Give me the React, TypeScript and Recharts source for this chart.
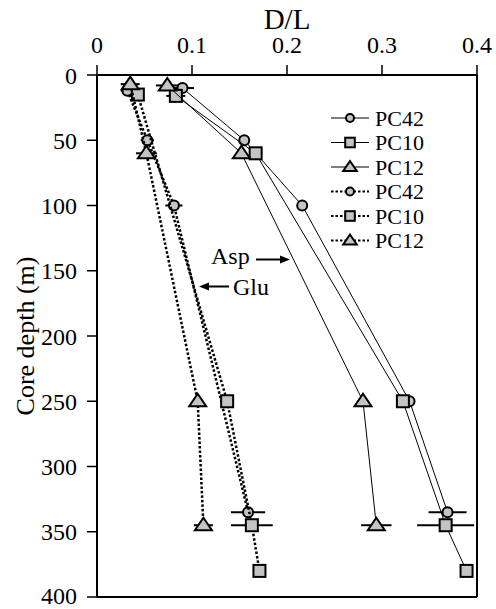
import React from 'react'
import {
  ScatterChart,
  Scatter,
  XAxis,
  YAxis,
  ErrorBar,
  ReferenceLine,
  Legend
} from 'recharts'

// axis ticks
const xTicks = [0, 0.1, 0.2, 0.3, 0.4]
const yTicks = [0, 50, 100, 150, 200, 250, 300, 350, 400]

// Asp D/L (solid lines) - dl, depth (m), err = half width of x error bar
const aspPC42 = [
  { dl: 0.090, depth: 10, err: 0.012 },
  { dl: 0.155, depth: 50, err: 0 },
  { dl: 0.216, depth: 100, err: 0 },
  { dl: 0.329, depth: 250, err: 0 },
  { dl: 0.369, depth: 335, err: 0.02 }
]
const aspPC10 = [
  { dl: 0.083, depth: 16, err: 0.01 },
  { dl: 0.167, depth: 60, err: 0.007 },
  { dl: 0.322, depth: 250, err: 0 },
  { dl: 0.367, depth: 345, err: 0.03 },
  { dl: 0.389, depth: 380, err: 0 }
]
const aspPC12 = [
  { dl: 0.074, depth: 8, err: 0.012 },
  { dl: 0.152, depth: 60, err: 0 },
  { dl: 0.280, depth: 250, err: 0 },
  { dl: 0.294, depth: 345, err: 0.016 }
]

// Glu D/L (dotted lines)
const gluPC42 = [
  { dl: 0.032, depth: 12, err: 0.007 },
  { dl: 0.053, depth: 50, err: 0.007 },
  { dl: 0.081, depth: 100, err: 0.009 },
  { dl: 0.159, depth: 335, err: 0.018 }
]
const gluPC10 = [
  { dl: 0.043, depth: 15, err: 0 },
  { dl: 0.137, depth: 250, err: 0 },
  { dl: 0.163, depth: 345, err: 0.022 },
  { dl: 0.171, depth: 380, err: 0 }
]
const gluPC12 = [
  { dl: 0.035, depth: 7, err: 0.01 },
  { dl: 0.052, depth: 60, err: 0.011 },
  { dl: 0.106, depth: 250, err: 0 },
  { dl: 0.112, depth: 345, err: 0.01 }
]

type Kind = 'circle' | 'square' | 'triangle'

const series: { name: string; data: typeof aspPC42; kind: Kind; dotted: boolean }[] = [
  { name: 'PC42', data: aspPC42, kind: 'circle', dotted: false },
  { name: 'PC10', data: aspPC10, kind: 'square', dotted: false },
  { name: 'PC12', data: aspPC12, kind: 'triangle', dotted: false },
  { name: 'PC42', data: gluPC42, kind: 'circle', dotted: true },
  { name: 'PC10', data: gluPC10, kind: 'square', dotted: true },
  { name: 'PC12', data: gluPC12, kind: 'triangle', dotted: true }
]

const FONT = '"Liberation Serif", "Times New Roman", serif'
const GRAY = '#c4c4c4'
const solidLine = { stroke: '#000', strokeWidth: 1 }
const dottedLine = { stroke: '#000', strokeWidth: 2.5, strokeDasharray: '2.5 2' }

function Marker({ kind, cx, cy, s = 1 }: { kind: Kind; cx: number; cy: number; s?: number }) {
  if (kind === 'circle') {
    return <circle cx={cx} cy={cy} r={5 * s} fill={GRAY} stroke="#000" strokeWidth={2} />
  }
  if (kind === 'square') {
    return (
      <rect x={cx - 6 * s} y={cy - 6 * s} width={12 * s} height={12 * s}
        fill={GRAY} stroke="#000" strokeWidth={2} />
    )
  }
  return (
    <polygon
      points={`${cx},${cy - 7.5 * s} ${cx + 8.5 * s},${cy + 5 * s} ${cx - 8.5 * s},${cy + 5 * s}`}
      fill={GRAY} stroke="#000" strokeWidth={2} strokeLinejoin="miter" />
  )
}

const renderLegend = () => (
  <svg width={160} height={150}>
    {series.map((s, i) => {
      const y = 12 + i * 24.5
      return (
        <g key={i}>
          <line x1={2} x2={40} y1={y} y2={y} {...(s.dotted ? { ...dottedLine, strokeWidth: 2 } : solidLine)} />
          <Marker kind={s.kind} cx={21} cy={y} s={0.8} />
          <text x={46} y={y + 7.5} fontSize={22} fontFamily={FONT} fill="#000">{s.name}</text>
        </g>
      )
    })}
  </svg>
)

export default function App() {
  return (
    <div style={{ position: 'absolute', left: 0, top: 0, width: 496, height: 609, background: '#fff' }}>
      <ScatterChart width={496} height={609} margin={{ top: 65, right: 19, bottom: 12, left: 87 }}>
        <XAxis
          type="number"
          dataKey="dl"
          orientation="top"
          height={10}
          domain={[0, 0.4]}
          ticks={xTicks}
          allowDataOverflow
          tickSize={10}
          tickMargin={12}
          axisLine={{ stroke: '#000', strokeWidth: 2 }}
          tickLine={{ stroke: '#000', strokeWidth: 1.5 }}
          tick={{ fill: '#000', fontSize: 24, fontFamily: FONT }}
          label={(p: any) => (
            <text x={p.viewBox.x + p.viewBox.width / 2} y={29} textAnchor="middle"
              fontSize={29} fontFamily={FONT} fill="#000">D/L</text>
          )}
        />
        <YAxis
          type="number"
          dataKey="depth"
          width={10}
          reversed
          domain={[0, 400]}
          ticks={yTicks}
          allowDataOverflow
          tickSize={10}
          tickMargin={10}
          axisLine={{ stroke: '#000', strokeWidth: 2 }}
          tickLine={{ stroke: '#000', strokeWidth: 1.5 }}
          tick={{ fill: '#000', fontSize: 24, fontFamily: FONT }}
          label={(p: any) => {
            const x = 25
            const y = p.viewBox.y + p.viewBox.height / 2
            return (
              <text x={x} y={y} transform={`rotate(-90, ${x}, ${y})`} textAnchor="middle"
                dominantBaseline="central" fontSize={26} fontFamily={FONT} fill="#000">
                Core depth (m)
              </text>
            )
          }}
        />
        <ReferenceLine x={0.4} stroke="#000" strokeWidth={2} ifOverflow="visible" />
        <ReferenceLine y={400} stroke="#000" strokeWidth={2} ifOverflow="visible" />
        {series.map((s, i) => (
          <Scatter
            key={i}
            name={s.name}
            data={s.data}
            fill={GRAY}
            line={s.dotted ? dottedLine : solidLine}
            lineType="joint"
            isAnimationActive={false}
            shape={(p: any) => <Marker kind={s.kind} cx={p.cx} cy={p.cy} />}
          >
            <ErrorBar dataKey="err" direction="x" width={0} stroke="#000" strokeWidth={2} isAnimationActive={false} />
          </Scatter>
        ))}
        <Legend
          layout="vertical"
          align="center"
          verticalAlign="middle"
          content={renderLegend}
          wrapperStyle={{ left: 329, top: 106, width: 160, height: 150 }}
        />
      </ScatterChart>

      {/* Asp / Glu annotation */}
      <svg width={496} height={609} style={{ position: 'absolute', left: 0, top: 0, pointerEvents: 'none' }}>
        <text x={211} y={264} fontSize={24} fontFamily={FONT} fill="#000">Asp</text>
        <line x1={256} x2={282} y1={259.5} y2={259.5} stroke="#000" strokeWidth={2} />
        <polygon points="290,259.5 280,255.5 280,263.5" fill="#000" />
        <text x={233} y={295} fontSize={24} fontFamily={FONT} fill="#000">Glu</text>
        <line x1={229} x2={207} y1={286.5} y2={286.5} stroke="#000" strokeWidth={2} />
        <polygon points="199,286.5 209,282.5 209,290.5" fill="#000" />
      </svg>
    </div>
  )
}
